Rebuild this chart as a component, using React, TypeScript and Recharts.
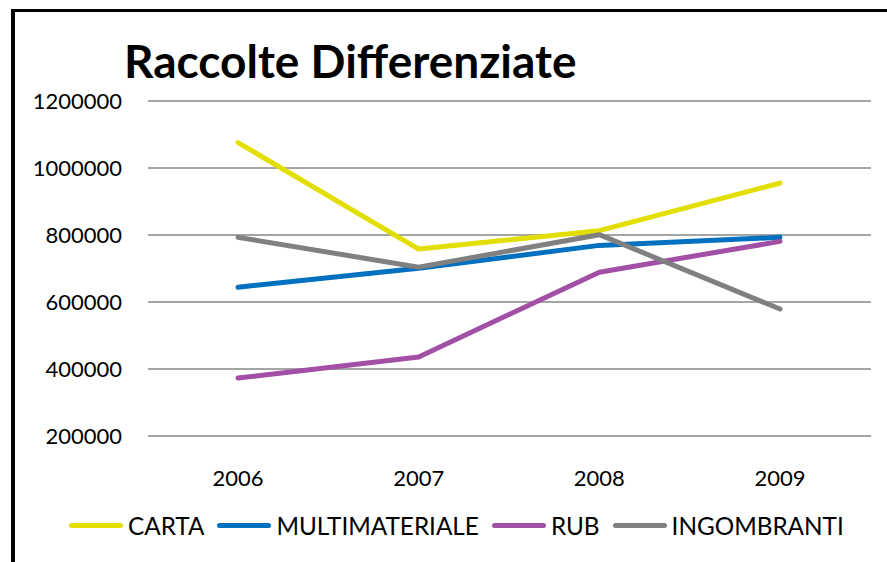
import { LineChart, Line, XAxis, YAxis, CartesianGrid } from "recharts"

const years = ["2006", "2007", "2008", "2009"]
const carta = [1076000, 758000, 813000, 955000]
const multimateriale = [644000, 701000, 769000, 793000]
const rub = [373000, 436000, 689000, 781000]
const ingombranti = [793000, 704000, 801000, 579000]
const yTicks = [200000, 400000, 600000, 800000, 1000000, 1200000]

const series = [
  { key: "CARTA", values: carta, color: "#e2df00" },
  { key: "MULTIMATERIALE", values: multimateriale, color: "#0070c0" },
  { key: "RUB", values: rub, color: "#a24fa6" },
  { key: "INGOMBRANTI", values: ingombranti, color: "#808080" },
]

const data = years.map((year, i) => {
  const row: Record<string, any> = { year }
  series.forEach((s) => (row[s.key] = s.values[i]))
  return row
})

const font = "Lato, 'Open Sans', sans-serif"

export default function App() {
  return (
    <div style={{ position: "absolute", left: 0, top: 0, width: 887, height: 562, background: "#fff", fontFamily: font, overflow: "hidden" }}>
      {/* frame: only left and top edges are visible */}
      <div style={{ position: "absolute", left: 11, top: 9, width: 900, height: 600, borderLeft: "4px solid #000", borderTop: "3px solid #000" }} />
      <div style={{ position: "absolute", left: 124, top: 33, fontSize: 46, fontWeight: 700, color: "#000", lineHeight: "56px", whiteSpace: "nowrap" }}>
        Raccolte Differenziate
      </div>
      <div style={{ position: "absolute", left: 0, top: 0 }}>
        <LineChart width={887} height={562} data={data} margin={{ top: 101, right: 16, left: 8, bottom: 66 }}>
          <CartesianGrid vertical={false} stroke="#878787" strokeWidth={1.6} />
          <XAxis
            dataKey="year"
            height={60}
            axisLine={false}
            tickLine={false}
            tickSize={0}
            tickMargin={34}
            padding={{ left: 90, right: 91 }}
            tick={{ fill: "#000", fontSize: 22, fontFamily: font }}
          />
          <YAxis
            width={140}
            domain={[200000, 1200000]}
            ticks={yTicks}
            axisLine={false}
            tickLine={false}
            tickSize={0}
            tickMargin={26}
            tick={{ fill: "#000", fontSize: 22, fontFamily: font }}
          />
          {series.map((s) => (
            <Line
              key={s.key}
              dataKey={s.key}
              stroke={s.color}
              strokeWidth={5}
              strokeLinecap="round"
              strokeLinejoin="round"
              dot={false}
              activeDot={false}
              isAnimationActive={false}
            />
          ))}
        </LineChart>
      </div>
      <div style={{ position: "absolute", left: 69, top: 510, height: 30, display: "flex", alignItems: "center", whiteSpace: "nowrap" }}>
        {series.map((s) => (
          <div key={s.key} style={{ display: "flex", alignItems: "center", marginRight: 13 }}>
            <div style={{ width: 54, height: 5, borderRadius: 3, background: s.color, marginRight: 5 }} />
            <span style={{ fontSize: 24.3, color: "#000" }}>{s.key}</span>
          </div>
        ))}
      </div>
    </div>
  )
}
